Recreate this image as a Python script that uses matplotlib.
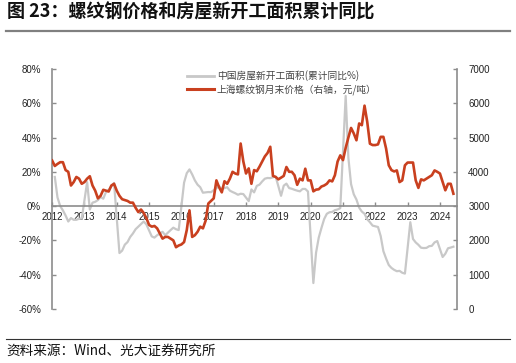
import numpy as np
import matplotlib.pyplot as plt
from matplotlib.lines import Line2D

plt.rcParams['font.family'] = ['Liberation Sans', 'Noto Sans CJK SC', 'DejaVu Sans']

# monthly, 2012-01 .. 2024-06 (index 0 = 2012-01)
years = list(range(2012, 2025))

# 上海螺纹钢月末价格 (元/吨)
steel = [4330, 4170, 4230, 4280, 4280, 4050, 4000, 3600, 3700, 3850, 3800, 3650,
         3700, 3800, 3870, 3600, 3450, 3225, 3300, 3475, 3450, 3425, 3600, 3650,
         3450, 3300, 3200, 3175, 3150, 3100, 3100, 2950, 2825, 2900, 2800, 2650,
         2450, 2400, 2420, 2350, 2200, 2050, 2100, 2100, 2050, 2000, 1800, 1850,
         1880, 1950, 2300, 2875, 2100, 2150, 2250, 2400, 2350, 2575, 3075, 3150,
         3225, 3750, 3550, 3400, 3725, 3650, 3800, 4000, 3950, 3925, 4825, 4300,
         3950, 4100, 3650, 4050, 4015, 4150, 4300, 4450, 4550, 4730, 3880, 3850,
         3780, 3830, 3880, 4140, 4000, 4000, 3900, 3620, 3800, 3750, 4090, 3750,
         3750, 3430, 3480, 3490, 3570, 3600, 3650, 3750, 3720, 3900, 4300, 4480,
         4340, 4700, 5000, 5280, 5120, 4920, 5410, 5360, 5930, 5460, 4820, 4780,
         4780, 4800, 5020, 5020, 4680, 4190, 4050, 4010, 4040, 3700, 3750, 4190,
         4270, 4270, 4270, 3750, 3530, 3780, 3750, 3800, 3850, 3900, 4040, 4000,
         3950, 3700, 3460, 3650, 3650, 3360]

# 中国房屋新开工面积 累计同比 (%), no January release
nan = np.nan
starts = [nan, 17, 5, 0, -2.5, -5.5, -9, -7, -8, -8, -7.4, -7.3,
          nan, 14, -2, 2, 2.5, 3.5, 5.3, 4.3, 8.2, 9.5, 11.5, 13.5,
          nan, -27.4, -26, -22.5, -21, -18, -16, -13.5, -12, -10.5, -9, -10.7,
          nan, -17.7, -18.4, -17, -16, -15, -17, -15.5, -14, -12.6, -13.5, -14,
          nan, 13.7, 19.2, 21.4, 18.5, 15, 12.5, 11, 7.8, 8, 8.2, 8.1,
          nan, 10.4, 11.6, 10, 10.5, 11, 9, 8.2, 7.5, 6.6, 7.2, 7,
          nan, 2.9, 9.7, 8, 11.8, 12.5, 14.4, 16, 16.4, 16.3, 16.8, 17.2,
          nan, 6, 11.9, 13.1, 10.5, 10.1, 9.5, 9, 8.6, 10, 10, 8.5,
          nan, -44.9, -27.2, -18.4, -12.8, -7.6, -4.5, -3.6, -3.4, -2.4, -2, -1.2,
          nan, 64.3, 28.2, 12.8, 6.9, 3.8, -0.9, -3.2, -4.5, -7.7, -9.4, -11.4,
          nan, -12.2, -17.5, -26.3, -30.6, -34.4, -36.1, -37.2, -38, -37.8, -38.9, -39.4,
          nan, -9.4, -19.2, -21.2, -22.6, -24.3, -24.5, -24.4, -23.4, -23.2, -21.2, -20.4,
          nan, -29.7, -27.8, -24.6, -24.2, -23.7]

label_starts = '中国房屋新开工面积(累计同比%)'
label_steel = '上海螺纹钢月末价格（右轴，元/吨）'

gray = '#c8c8c8'
red = '#c9401f'
axis_c = '#8c8c8c'

fig = plt.figure(figsize=(5.16, 3.63), dpi=100)
ax = fig.add_axes([0.101, 0.149, 0.785, 0.661])
ax2 = ax.twinx()

m = np.arange(len(steel))
s = np.array(starts, dtype=float)
ok = ~np.isnan(s)
ax.plot(m[ok], s[ok], color=gray, lw=1.6, solid_joinstyle='round')
ax2.plot(m, steel, color=red, lw=1.9, solid_joinstyle='round')

ax.set_xlim(0, 150.4)
ax.set_ylim(-60, 80)
ax2.set_ylim(0, 7000)
ax.set_yticks(np.arange(-60, 81, 20))
ax.set_yticklabels([f'{v}%' for v in range(-60, 81, 20)])
ax2.set_yticks(np.arange(0, 7001, 1000))
ax.set_xticks(np.arange(0, 150, 12))
ax.set_xticklabels([str(y) for y in years])

for a in (ax, ax2):
    a.spines['top'].set_visible(False)
    for sp in a.spines.values():
        sp.set_color(axis_c)
        sp.set_linewidth(1.2)
ax.spines['right'].set_visible(False)
ax2.spines['left'].set_visible(False)
ax2.spines['bottom'].set_visible(False)
ax.spines['bottom'].set_position(('data', 0))

ax.tick_params(axis='y', direction='in', length=3, width=1, color=axis_c,
               labelsize=7, labelcolor='#222222', pad=8)
ax2.tick_params(axis='y', direction='in', length=3, width=1, color=axis_c,
                labelsize=7, labelcolor='#222222', pad=8)
ax.tick_params(axis='x', direction='in', length=3, width=1, color=axis_c,
               labelsize=7, labelcolor='#222222', pad=4)

handles = [Line2D([], [], color=gray, lw=2.0), Line2D([], [], color=red, lw=2.2)]
ax2.legend(handles, [label_starts, label_steel], loc='upper left',
           bbox_to_anchor=(0.32, 1.015), frameon=False, handlelength=2.8,
           handletextpad=0.3, borderpad=0, labelspacing=0.25,
           prop={'family': 'Noto Sans CJK SC', 'size': 7}, labelcolor='#444444')

# header / footer
fig.text(0.013, 0.966, '图 23：螺纹钢价格和房屋新开工面积累计同比', fontsize=13,
         fontweight='bold', family='Noto Sans CJK SC', va='center', color='#111111')
fig.add_artist(Line2D([0.012, 0.988], [0.915, 0.915], color='#808080', lw=1.6))
fig.add_artist(Line2D([0.012, 0.988], [0.066, 0.066], color='#333333', lw=0.8))
fig.text(0.012, 0.034, '资料来源：Wind、光大证券研究所', fontsize=9.8,
         family='Noto Sans CJK SC', va='center', color='#111111')

fig.savefig('out.png', dpi=100)
